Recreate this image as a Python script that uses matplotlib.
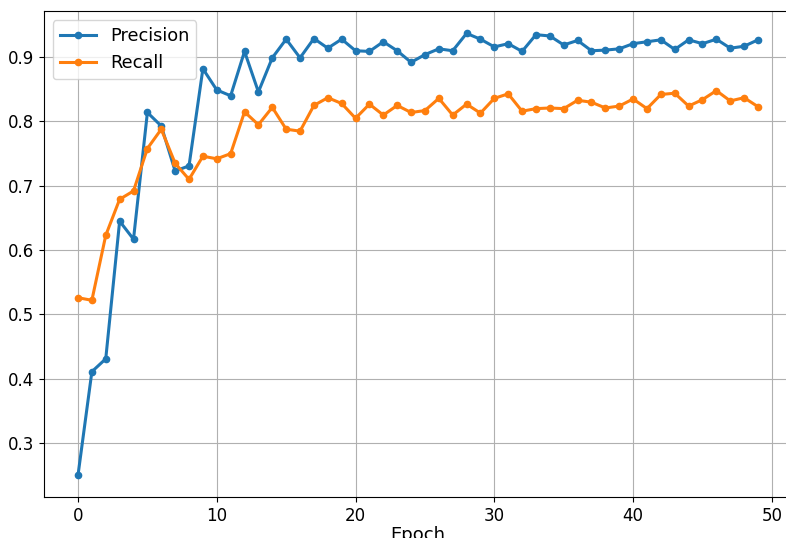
import matplotlib
matplotlib.use("Agg")
import matplotlib.pyplot as plt

# values
epochs = list(range(50))

precision = [0.250, 0.411, 0.431, 0.645, 0.617, 0.814, 0.793, 0.723, 0.731, 0.882,
             0.849, 0.840, 0.909, 0.846, 0.899, 0.928, 0.899, 0.929, 0.914, 0.928,
             0.910, 0.909, 0.924, 0.910, 0.892, 0.904, 0.913, 0.910, 0.937, 0.928,
             0.916, 0.921, 0.909, 0.935, 0.933, 0.919, 0.926, 0.910, 0.911, 0.913,
             0.921, 0.924, 0.927, 0.912, 0.927, 0.921, 0.928, 0.914, 0.917, 0.927]

recall = [0.526, 0.522, 0.623, 0.679, 0.692, 0.758, 0.788, 0.735, 0.710, 0.746,
          0.742, 0.750, 0.815, 0.795, 0.822, 0.788, 0.785, 0.825, 0.837, 0.828,
          0.805, 0.827, 0.810, 0.825, 0.814, 0.817, 0.836, 0.810, 0.827, 0.813,
          0.836, 0.843, 0.816, 0.820, 0.821, 0.820, 0.833, 0.830, 0.821, 0.824,
          0.835, 0.820, 0.842, 0.844, 0.824, 0.834, 0.848, 0.832, 0.837, 0.823]

fig = plt.figure(figsize=(7.86, 5.38), dpi=100)
# the reference is cropped: right spine sits just outside the picture
ax = fig.add_axes([44 / 786, 1 - 497.3 / 538, 748 / 786, 486 / 538])

ax.plot(epochs, precision, marker="o", markersize=4.5, linewidth=2.2,
        color="#1f77b4", label="Precision")
ax.plot(epochs, recall, marker="o", markersize=4.5, linewidth=2.2,
        color="#ff7f0e", label="Recall")

ax.set_xticks([0, 10, 20, 30, 40, 50])
ax.set_yticks([0.3, 0.4, 0.5, 0.6, 0.7, 0.8, 0.9])
ax.tick_params(labelsize=12)
ax.set_xlabel("Epoch", fontsize=13, labelpad=0.5)
ax.grid(True, color="#b0b0b0", linewidth=0.8)
ax.legend(loc="upper left", fontsize=12.8)

fig.savefig("out.png", dpi=100)
